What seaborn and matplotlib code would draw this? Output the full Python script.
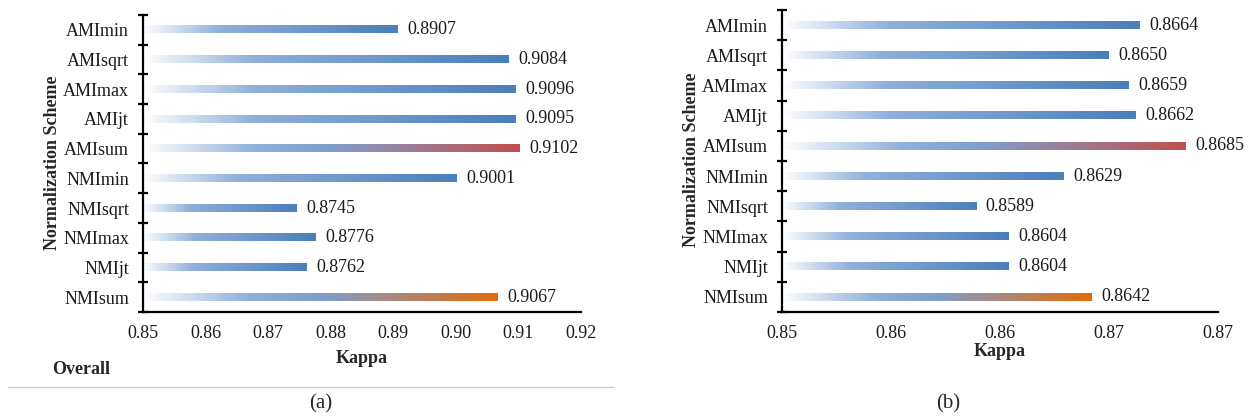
import numpy as np
import pandas as pd
import matplotlib
matplotlib.use("Agg")
import matplotlib.pyplot as plt
from matplotlib.colors import LinearSegmentedColormap
import seaborn as sns

categories = ["AMImin", "AMIsqrt", "AMImax", "AMIjt", "AMIsum",
              "NMImin", "NMIsqrt", "NMImax", "NMIjt", "NMIsum"]
kappa_a = [0.8907, 0.9084, 0.9096, 0.9095, 0.9102,
           0.9001, 0.8745, 0.8776, 0.8762, 0.9067]
kappa_b = [0.8664, 0.8650, 0.8659, 0.8662, 0.8685,
           0.8629, 0.8589, 0.8604, 0.8604, 0.8642]
end_colors = ["#4f81bd", "#4f81bd", "#4f81bd", "#4f81bd", "#c0504d",
              "#4f81bd", "#4f81bd", "#4f81bd", "#4f81bd", "#e36c09"]

xticks_a = [0.85, 0.86, 0.87, 0.88, 0.89, 0.90, 0.91, 0.92]
xticklabels_a = ["0.85", "0.86", "0.87", "0.88", "0.89", "0.90", "0.91", "0.92"]
xticks_b = [0.85, 0.855, 0.86, 0.865, 0.87]
xticklabels_b = ["0.85", "0.86", "0.86", "0.87", "0.87"]

sns.set_theme(style="white")
plt.rcParams["font.family"] = ["Liberation Serif", "DejaVu Serif"]

W, H = 1252, 419
fig = plt.figure(figsize=(W / 100, H / 100), dpi=100)


def px_axes(left, right, top, bottom):
    return fig.add_axes([left / W, 1 - bottom / H, (right - left) / W, (bottom - top) / H])


def make_cmap(end):
    if end == "#4f81bd":
        stops = [(0.0, "#ffffff"), (0.3, "#8fb0da"), (1.0, "#4a7ebb")]
    else:
        stops = [(0.0, "#ffffff"), (0.3, "#8fb0da"), (0.5, "#7f9dcb"), (1.0, end)]
    return LinearSegmentedColormap.from_list("g", stops)


def draw_panel(ax, values, xlim, xticks, xticklabels):
    df = pd.DataFrame({"scheme": categories, "kappa": values})
    sns.barplot(data=df, x="kappa", y="scheme", orient="h", width=0.24,
                color="#4f81bd", ax=ax, saturation=1)
    ax.set_xlim(*xlim)
    ylim = (len(categories) - 0.5, -0.5)
    grad = np.linspace(0, 1, 256).reshape(1, -1)
    for patch, end in zip(ax.patches, end_colors):
        x0 = max(patch.get_x(), xlim[0])
        x1 = patch.get_x() + patch.get_width()
        y0 = patch.get_y()
        h = patch.get_height()
        patch.set_facecolor("none")
        patch.set_edgecolor("none")
        ax.imshow(grad, extent=[x0, x1, y0 + h, y0], aspect="auto",
                  cmap=make_cmap(end), interpolation="bilinear", zorder=2)
    ax.set_xlim(*xlim)
    ax.set_ylim(*ylim)
    ax.bar_label(ax.containers[0], labels=[f"{v:.4f}" for v in values],
                 padding=7, fontsize=13, color="#1a1a1a")

    for s in ["top", "right"]:
        ax.spines[s].set_visible(False)
    for s in ["left", "bottom"]:
        ax.spines[s].set_color("black")
        ax.spines[s].set_linewidth(1.6)

    ax.set_xticks(xticks)
    ax.set_xticklabels(xticklabels, fontsize=13, color="#1a1a1a")
    ax.tick_params(axis="x", direction="inout", length=9, width=1.6,
                   color="black", pad=5)
    ax.set_yticks(range(len(categories)))
    ax.set_yticklabels(categories, fontsize=13, color="#1a1a1a")
    ax.set_yticks(np.arange(-0.5, len(categories), 1.0), minor=True)
    ax.tick_params(axis="y", which="major", length=0, pad=10)
    ax.tick_params(axis="y", which="minor", direction="inout", length=7,
                   width=1.6, color="black", left=True)
    ax.set_xlabel("")
    ax.set_ylabel("")


ax_a = px_axes(143, 581, 15, 312)
draw_panel(ax_a, kappa_a, (0.85, 0.92), xticks_a, xticklabels_a)
ax_b = px_axes(782, 1218, 10, 312)
draw_panel(ax_b, kappa_b, (0.85, 0.87), xticks_b, xticklabels_b)

# axis titles
fig.text(362 / W, 1 - 358 / H, "Kappa", ha="center", va="center",
         fontsize=13, fontweight="bold")
fig.text(1000 / W, 1 - 351 / H, "Kappa", ha="center", va="center",
         fontsize=13, fontweight="bold")
fig.text(53 / W, 1 - 163 / H, "Normalization Scheme", ha="center", va="center",
         rotation=90, fontsize=13, fontweight="bold")
fig.text(692 / W, 1 - 160 / H, "Normalization Scheme", ha="center", va="center",
         rotation=90, fontsize=13, fontweight="bold")
fig.text(81 / W, 1 - 369 / H, "Overall", ha="center", va="center",
         fontsize=13, fontweight="bold")

# separator line and panel captions
fig.add_artist(plt.Line2D([8 / W, 613 / W], [1 - 387 / H, 1 - 387 / H],
                          color="#c8c8c8", linewidth=1.0))
fig.text(321 / W, 1 - 404 / H, "(a)", ha="center", va="center", fontsize=15)
fig.text(948 / W, 1 - 404 / H, "(b)", ha="center", va="center", fontsize=15)

fig.savefig("out.png", dpi=100, facecolor="white")
